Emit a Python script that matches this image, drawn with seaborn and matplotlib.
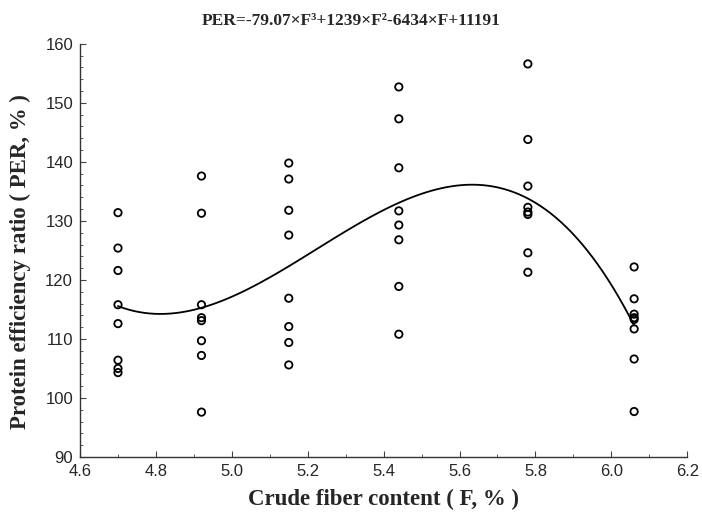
import matplotlib
matplotlib.use("Agg")
import matplotlib.pyplot as plt
from matplotlib.ticker import AutoMinorLocator, MultipleLocator
import numpy as np
import pandas as pd
import seaborn as sns

# crude fiber levels and PER values
fiber_levels = [4.70, 4.92, 5.15, 5.44, 5.78, 6.06]
per_470 = [131.4, 125.4, 121.6, 115.8, 112.6, 106.4, 105.0, 104.3]
per_492 = [137.6, 131.3, 115.8, 113.6, 113.1, 109.7, 107.2, 97.6]
per_515 = [139.8, 137.1, 131.8, 127.6, 116.9, 112.1, 109.4, 105.6]
per_544 = [152.7, 147.3, 139.0, 131.7, 129.3, 126.8, 118.9, 110.8]
per_578 = [156.6, 143.8, 135.9, 132.3, 131.5, 131.1, 124.6, 121.3]
per_606 = [122.2, 116.8, 114.2, 113.6, 113.3, 111.7, 106.6, 97.7]

groups = [per_470, per_492, per_515, per_544, per_578, per_606]
rows = []
for f, vals in zip(fiber_levels, groups):
    for v in vals:
        rows.append((f, v))
df = pd.DataFrame(rows, columns=["F", "PER"])

sns.set_style("ticks")
plt.rcParams["font.family"] = ["Liberation Sans", "DejaVu Sans"]

fig = plt.figure(figsize=(7.02, 5.19), dpi=100)
ax = fig.add_axes([0.114, 0.1195, 0.865, 0.796])

sns.scatterplot(data=df, x="F", y="PER", ax=ax, marker="o", s=28,
                facecolors="none", edgecolor="black", linewidth=1.3)
# cubic fit line
sns.regplot(data=df, x="F", y="PER", ax=ax, order=3, ci=None, scatter=False,
            line_kws=dict(color="black", lw=1.3))

ax.set_xlim(4.6, 6.2)
ax.set_ylim(90, 160)
ax.xaxis.set_major_locator(MultipleLocator(0.2))
ax.yaxis.set_major_locator(MultipleLocator(10))
ax.xaxis.set_minor_locator(AutoMinorLocator(2))
ax.yaxis.set_minor_locator(AutoMinorLocator(5))
ax.set_xticklabels([f"{t:.1f}" for t in ax.get_xticks()])
ax.tick_params(which="both", direction="in", labelsize=12, color="#444444")
ax.tick_params(which="major", length=4)
ax.tick_params(which="minor", length=2.5)
ax.tick_params(axis="x", pad=5)
ax.tick_params(axis="y", pad=5)
for s in ["top", "right"]:
    ax.spines[s].set_visible(False)
for s in ["left", "bottom"]:
    ax.spines[s].set_color("#333333")
    ax.spines[s].set_linewidth(1.0)

ax.set_xlabel("Crude fiber content ( F, % )", family="Liberation Serif",
              fontweight="bold", fontsize=16.5, labelpad=7)
ax.set_ylabel("Protein efficiency ratio ( PER, % )", family="Liberation Serif",
              fontweight="bold", fontsize=16.5)
ax.yaxis.set_label_coords(-0.080, 0.472)
fig.text(0.5, 1 - 21 / 519, "PER=-79.07×F³+1239×F²-6434×F+11191",
         family="Liberation Serif", fontweight="bold", fontsize=12.5,
         ha="center", va="center")

fig.savefig("out.png", dpi=100)
